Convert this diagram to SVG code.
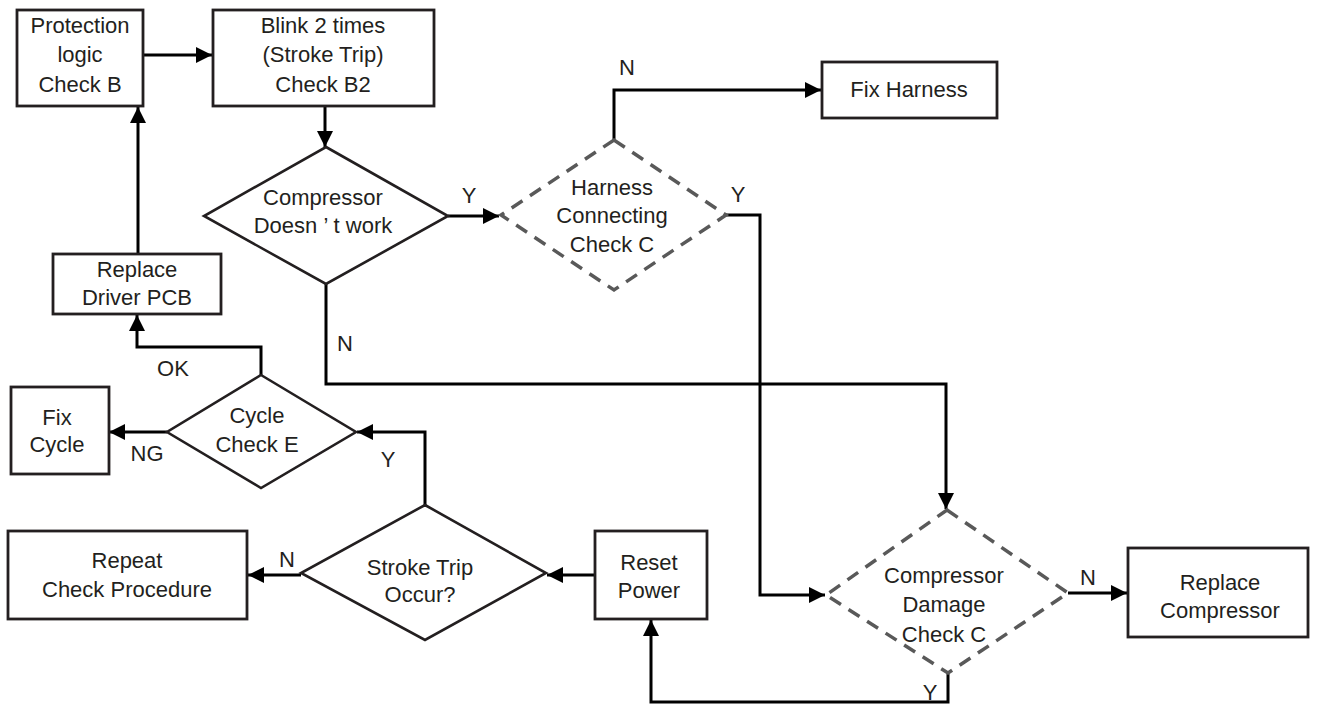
<svg xmlns="http://www.w3.org/2000/svg" width="1317" height="704" viewBox="0 0 1317 704">
<defs>
<marker id="arr" markerUnits="userSpaceOnUse" markerWidth="18" markerHeight="16" refX="16" refY="8" orient="auto">
<path d="M0,0 L16,8 L0,16 Z" fill="#000"/>
</marker>
<style>
.box{fill:#fff;stroke:#231f20;stroke-width:2.8}
.dia{fill:#fff;stroke:#231f20;stroke-width:2.6}
.dash{fill:#fff;stroke:#595959;stroke-width:3.5;stroke-dasharray:13 9}
.t{font-family:"Liberation Sans",Arial,sans-serif;font-size:22px;fill:#231f20;text-anchor:middle}
.c{fill:none;stroke:#000;stroke-width:3}
</style>
</defs>
<rect width="1317" height="704" fill="#fff"/>
<g id="connectors">
<path class="c" d="M143,55 H212" marker-end="url(#arr)"/>
<path class="c" d="M325,106 V147" marker-end="url(#arr)"/>
<path class="c" d="M448,216 H499" marker-end="url(#arr)"/>
<path class="c" d="M614,140 V90 H821" marker-end="url(#arr)"/>
<path class="c" d="M726,215 H760 V595 H825" marker-end="url(#arr)"/>
<path class="c" d="M326,284 V384 H946 V509" marker-end="url(#arr)"/>
<path class="c" d="M1068,593 H1127" marker-end="url(#arr)"/>
<path class="c" d="M948,673 V702 H651 V620" marker-end="url(#arr)"/>
<path class="c" d="M595,575 H547" marker-end="url(#arr)"/>
<path class="c" d="M301,575 H248" marker-end="url(#arr)"/>
<path class="c" d="M425,505 V432 H357" marker-end="url(#arr)"/>
<path class="c" d="M167,432 H109" marker-end="url(#arr)"/>
<path class="c" d="M261,375 V347 H137 V315" marker-end="url(#arr)"/>
<path class="c" d="M138,254 V107" marker-end="url(#arr)"/>
<text class="t" x="627" y="75">N</text>
<text class="t" x="469" y="203">Y</text>
<text class="t" x="738" y="202">Y</text>
<text class="t" x="345" y="351">N</text>
<text class="t" x="173" y="376">OK</text>
<text class="t" x="147" y="461">NG</text>
<text class="t" x="388" y="467">Y</text>
<text class="t" x="287" y="567">N</text>
<text class="t" x="1088" y="585">N</text>
<text class="t" x="930" y="700">Y</text>
</g>
<g id="protection">
<rect class="box" x="17" y="10" width="126" height="96"/>
<text class="t" x="80" y="33">Protection</text>
<text class="t" x="80" y="62">logic</text>
<text class="t" x="80" y="92">Check B</text>
</g>
<g id="blink">
<rect class="box" x="213" y="10" width="221" height="96"/>
<text class="t" x="323" y="33">Blink 2 times</text>
<text class="t" x="323" y="62">(Stroke Trip)</text>
<text class="t" x="323" y="92">Check B2</text>
</g>
<g id="compressor">
<polygon class="dia" points="326,147 448,216 326,284 204,216"/>
<text class="t" x="323" y="205">Compressor</text>
<text class="t" x="323" y="233">Doesn ’ t work</text>
</g>
<g id="harness">
<polygon class="dash" points="614,140 726,215 614,290 501,215"/>
<text class="t" x="612" y="195">Harness</text>
<text class="t" x="612" y="223">Connecting</text>
<text class="t" x="612" y="252">Check C</text>
</g>
<g id="fixharness">
<rect class="box" x="822" y="62" width="175" height="56"/>
<text class="t" x="909" y="97">Fix Harness</text>
</g>
<g id="replacepcb">
<rect class="box" x="53" y="254" width="168" height="60"/>
<text class="t" x="137" y="277">Replace</text>
<text class="t" x="137" y="305">Driver PCB</text>
</g>
<g id="cycle">
<polygon class="dia" points="261,375 356,432 261,488 167,432"/>
<text class="t" x="257" y="423">Cycle</text>
<text class="t" x="257" y="452">Check E</text>
</g>
<g id="fixcycle">
<rect class="box" x="11" y="387" width="98" height="87"/>
<text class="t" x="57" y="425">Fix</text>
<text class="t" x="57" y="452">Cycle</text>
</g>
<g id="stroke">
<polygon class="dia" points="425,505 546,573 425,640 301,573"/>
<text class="t" x="420" y="575">Stroke Trip</text>
<text class="t" x="420" y="602">Occur?</text>
</g>
<g id="repeat">
<rect class="box" x="8" y="531" width="239" height="88"/>
<text class="t" x="127" y="568">Repeat</text>
<text class="t" x="127" y="597">Check Procedure</text>
</g>
<g id="reset">
<rect class="box" x="595" y="531" width="112" height="88"/>
<text class="t" x="649" y="570">Reset</text>
<text class="t" x="649" y="598">Power</text>
</g>
<g id="damage">
<polygon class="dash" points="947,510 1068,593 948,673 826,595"/>
<text class="t" x="944" y="583">Compressor</text>
<text class="t" x="944" y="612">Damage</text>
<text class="t" x="944" y="642">Check C</text>
</g>
<g id="replacecomp">
<rect class="box" x="1128" y="548" width="180" height="89"/>
<text class="t" x="1220" y="590">Replace</text>
<text class="t" x="1220" y="618">Compressor</text>
</g>
</svg>
